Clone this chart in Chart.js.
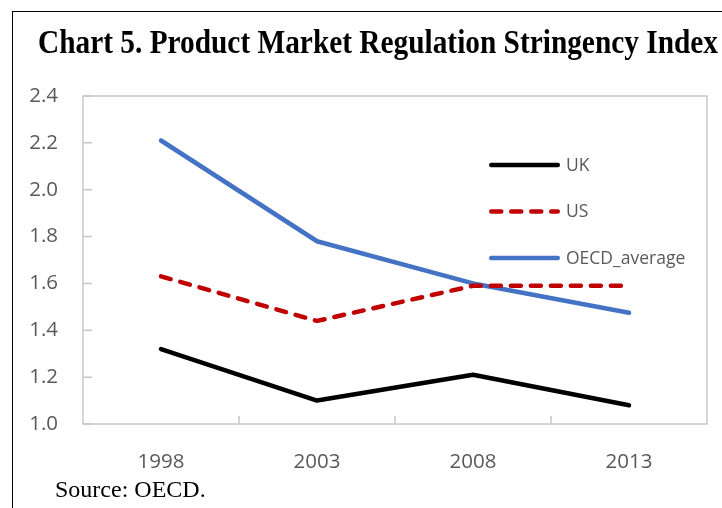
<!DOCTYPE html>
<html>
<head>
<meta charset="utf-8">
<script src="https://cdn.jsdelivr.net/npm/chart.js@4/dist/chart.umd.min.js"></script>
<style>
html, body { margin:0; padding:0; background:#fff; }
#wrap { position:relative; width:722px; height:508px; overflow:hidden; background:#fff; }
#frame { position:absolute; left:12px; top:11px; width:760px; height:560px; border-left:1px solid #000; border-top:1px solid #000; }
#title { position:absolute; left:38px; top:26.4px; font:bold 33px "Liberation Serif", "Times New Roman", serif; line-height:33px; white-space:nowrap; color:#000; transform-origin:0 0; }
#source { position:absolute; left:55px; top:476.6px; font:24px "Liberation Serif", "Times New Roman", serif; line-height:24px; white-space:nowrap; color:#000; }
#chart { position:absolute; left:0; top:0; }
</style>
</head>
<body>
<div id="wrap">
  <div id="frame"></div>
  <canvas id="chart" width="722" height="508"></canvas>
  <div id="title">Chart 5. Product Market Regulation Stringency Index</div>
  <div id="source">Source: OECD.</div>
</div>
<script>
const categories = ['1998', '2003', '2008', '2013'];
const seriesNames = ['UK', 'US', 'OECD_average'];
const ukValues = [1.32, 1.10, 1.21, 1.08];
const usValues = [1.63, 1.44, 1.59, 1.59];
const oecdValues = [2.21, 1.78, 1.60, 1.475];
const yTickValues = [1.0, 1.2, 1.4, 1.6, 1.8, 2.0, 2.2, 2.4];

const tickColor = '#595959';
const frameColor = '#c8c8c8';

// fit title to its width in the reference (condensed heading)
(function () {
  const t = document.getElementById('title');
  const w = t.getBoundingClientRect().width;
  if (w > 0) t.style.transform = 'scaleX(' + (680 / w) + ')';
})();

const decorPlugin = {
  id: 'decor',
  beforeDatasetsDraw(chart) {
    const { ctx, chartArea: a, scales } = chart;
    ctx.save();
    ctx.strokeStyle = frameColor;
    ctx.lineWidth = 1.5;
    ctx.strokeRect(a.left, a.top, a.right - a.left, a.bottom - a.top);
    ctx.beginPath();
    scales.y.ticks.forEach(t => {
      const y = scales.y.getPixelForValue(t.value);
      ctx.moveTo(a.left, y);
      ctx.lineTo(a.left + 9, y);
    });
    const n = scales.x.ticks.length;
    for (let i = 0; i < n - 1; i++) {
      const x = (scales.x.getPixelForTick(i) + scales.x.getPixelForTick(i + 1)) / 2;
      ctx.moveTo(x, a.bottom);
      ctx.lineTo(x, a.bottom - 8);
    }
    ctx.stroke();
    ctx.restore();
  },
  afterDatasetsDraw(chart) {
    const { ctx, chartArea: a } = chart;
    ctx.save();
    chart.data.datasets.forEach((ds, i) => {
      const y = a.top + 69 + i * 46.5;
      const x0 = a.right - 218, x1 = a.right - 147;
      const w = ds.borderWidth;
      ctx.strokeStyle = ds.borderColor;
      ctx.lineWidth = w;
      ctx.lineCap = 'round';
      ctx.setLineDash(ds.borderDash || []);
      ctx.beginPath();
      ctx.moveTo(x0 + w / 2, y);
      ctx.lineTo(x1 - w / 2, y);
      ctx.stroke();
      ctx.setLineDash([]);
      ctx.fillStyle = tickColor;
      ctx.font = '17.5px "Open Sans"';
      ctx.textBaseline = 'middle';
      ctx.textAlign = 'left';
      ctx.fillText(ds.label, x1 + 6, y + 1);
    });
    ctx.restore();
  }
};

const lineBase = {
  borderWidth: 4.5,
  pointRadius: 0,
  pointHoverRadius: 0,
  tension: 0,
  fill: false,
  borderCapStyle: 'round',
  borderJoinStyle: 'round'
};

new Chart(document.getElementById('chart'), {
  type: 'line',
  data: {
    labels: categories,
    datasets: [
      Object.assign({}, lineBase, { label: seriesNames[0], data: ukValues, borderColor: '#000000' }),
      Object.assign({}, lineBase, { label: seriesNames[1], data: usValues, borderColor: '#c00000', borderDash: [10, 10] }),
      Object.assign({}, lineBase, { label: seriesNames[2], data: oecdValues, borderColor: '#4472c4' })
    ]
  },
  options: {
    responsive: false,
    animation: false,
    devicePixelRatio: 1,
    layout: { padding: { top: 96, right: 15, bottom: 0, left: 0 } },
    plugins: {
      legend: { display: false },
      tooltip: { enabled: false },
      title: { display: false }
    },
    scales: {
      x: {
        type: 'category',
        offset: true,
        grid: { display: false, drawTicks: false },
        border: { display: false },
        ticks: { color: tickColor, font: { family: '"Open Sans"', size: 20.5 }, padding: 26, maxRotation: 0, autoSkip: false },
        afterFit(s) { s.height = 84; }
      },
      y: {
        min: 1.0,
        max: 2.4,
        grid: { display: false, drawTicks: false },
        border: { display: false },
        afterBuildTicks(s) { s.ticks = yTickValues.map(v => ({ value: v })); },
        ticks: { color: tickColor, font: { family: '"Open Sans"', size: 20.5 }, padding: 25, callback: v => Number(v).toFixed(1) },
        afterFit(s) { s.width = 83; }
      }
    }
  },
  plugins: [decorPlugin]
});
</script>
</body>
</html>
